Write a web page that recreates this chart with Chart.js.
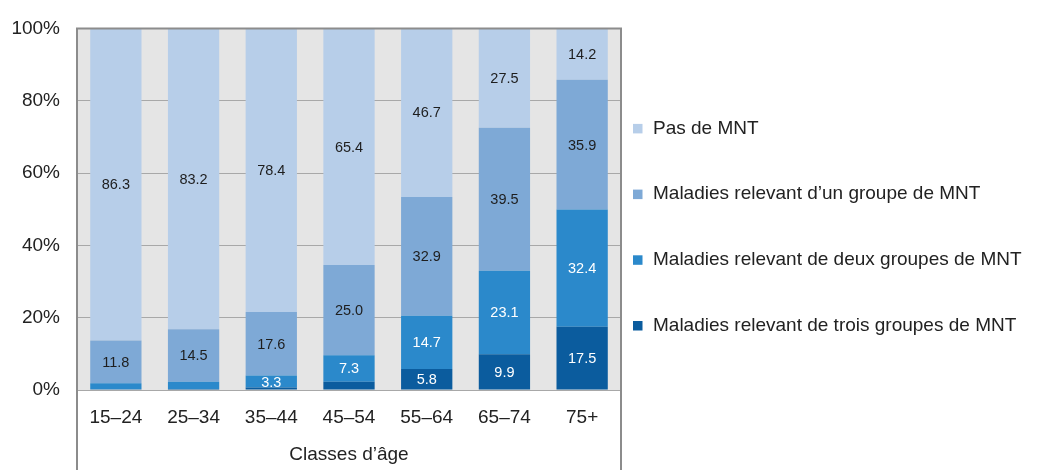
<!DOCTYPE html>
<html lang="fr">
<head>
<meta charset="utf-8">
<script src="https://cdn.jsdelivr.net/npm/chart.js@4"></script>
<style>
  html, body { margin: 0; padding: 0; background: #fff; }
  #wrap { width: 1062px; height: 470px; position: relative; }
</style>
</head>
<body>
<div id="wrap"><canvas id="mnt-chart"></canvas></div>
<script>
// Classes d'âge
const AGE_LABELS = ['15–24', '25–34', '35–44', '45–54', '55–64', '65–74', '75+'];

// Séries (%) — de bas en haut dans la pile
const TROIS_GROUPES = [0.2, 0.3, 0.7, 2.3, 5.8, 9.9, 17.5];
const DEUX_GROUPES  = [1.7, 2.0, 3.3, 7.3, 14.7, 23.1, 32.4];
const UN_GROUPE     = [11.8, 14.5, 17.6, 25.0, 32.9, 39.5, 35.9];
const PAS_DE_MNT    = [86.3, 83.2, 78.4, 65.4, 46.7, 27.5, 14.2];

const Y_TICKS = [0, 20, 40, 60, 80, 100];

const FONT = "'Liberation Sans', Arial, sans-serif";
const TEXT = '#222222';

// ── fond gris + cadre ─────────────────────────────────────────
const framePlugin = {
  id: 'frame',
  beforeDraw(chart) {
    const { ctx, chartArea: a } = chart;
    ctx.save();
    ctx.fillStyle = '#e5e5e5';
    ctx.fillRect(a.left, a.top, a.right - a.left, a.bottom - a.top);
    ctx.restore();
  },
  afterDraw(chart) {
    const { ctx, chartArea: a, height } = chart;
    ctx.save();
    ctx.strokeStyle = '#8c8c8c';
    ctx.lineWidth = 2;
    ctx.beginPath();
    ctx.moveTo(a.left, height);
    ctx.lineTo(a.left, a.top);
    ctx.lineTo(a.right, a.top);
    ctx.lineTo(a.right, height);
    ctx.stroke();
    ctx.restore();
  },
};

// ── étiquettes de valeurs ─────────────────────────────────────
const valuePlugin = {
  id: 'values',
  afterDatasetsDraw(chart) {
    const { ctx } = chart;
    ctx.save();
    ctx.font = `14.5px ${FONT}`;
    ctx.textAlign = 'center';
    ctx.textBaseline = 'middle';
    chart.data.datasets.forEach((ds, i) => {
      const meta = chart.getDatasetMeta(i);
      meta.data.forEach((bar, j) => {
        const v = ds.data[j];
        if (v < 3) return;
        ctx.fillStyle = ds.labelColor;
        ctx.fillText(v.toFixed(1), bar.x, (bar.y + bar.base) / 2 + 1);
      });
    });
    ctx.restore();
  },
};

// ── légende à droite ──────────────────────────────────────────
const legendPlugin = {
  id: 'sideLegend',
  afterDraw(chart) {
    const { ctx, chartArea: a } = chart;
    const items = [...chart.data.datasets].reverse();
    ctx.save();
    ctx.font = `19px ${FONT}`;
    ctx.textAlign = 'left';
    ctx.textBaseline = 'middle';
    items.forEach((ds, k) => {
      const y = a.top + 100 + k * 65.7;
      ctx.fillStyle = ds.backgroundColor;
      ctx.fillRect(a.right + 12, y - 4.5, 9.5, 9.5);
      ctx.fillStyle = TEXT;
      ctx.fillText(ds.label, a.right + 32, y);
    });
    ctx.restore();
  },
};

const datasets = [
  { label: 'Maladies relevant de trois groupes de MNT', data: TROIS_GROUPES, backgroundColor: '#0b5c9e', labelColor: '#ffffff' },
  { label: 'Maladies relevant de deux groupes de MNT',  data: DEUX_GROUPES,  backgroundColor: '#2b89cb', labelColor: '#ffffff' },
  { label: 'Maladies relevant d’un groupe de MNT',      data: UN_GROUPE,     backgroundColor: '#7ea9d6', labelColor: '#1e1e1e' },
  { label: 'Pas de MNT',                                data: PAS_DE_MNT,    backgroundColor: '#b7cee9', labelColor: '#1e1e1e' },
].map(d => ({ ...d, barPercentage: 0.66, categoryPercentage: 1, borderWidth: 0 }));

new Chart(document.getElementById('mnt-chart'), {
  type: 'bar',
  data: { labels: AGE_LABELS, datasets },
  plugins: [framePlugin, valuePlugin, legendPlugin],
  options: {
    responsive: true,
    maintainAspectRatio: false,
    animation: false,
    layout: { padding: { top: 23, right: 441, bottom: 0, left: 0 } },
    plugins: {
      legend: { display: false },
      tooltip: { enabled: false },
    },
    scales: {
      x: {
        stacked: true,
        grid: { display: false },
        border: { display: false },
        ticks: { color: TEXT, font: { family: FONT, size: 19 }, padding: 8, maxRotation: 0 },
        title: {
          display: true,
          text: 'Classes d’âge',
          color: TEXT,
          font: { family: FONT, size: 19 },
          padding: { top: 0, bottom: 4 },
        },
        afterFit: scale => { scale.height = 80; },
      },
      y: {
        stacked: true,
        min: 0,
        max: 100,
        afterBuildTicks: scale => { scale.ticks = Y_TICKS.map(v => ({ value: v })); },
        grid: { color: '#a8a8a8', lineWidth: 1, drawTicks: false },
        border: { display: false },
        ticks: {
          color: TEXT,
          font: { family: FONT, size: 19 },
          padding: 17,
          callback: v => v + '%',
        },
        afterFit: scale => { scale.width = 77; },
      },
    },
  },
});
</script>
</body>
</html>
